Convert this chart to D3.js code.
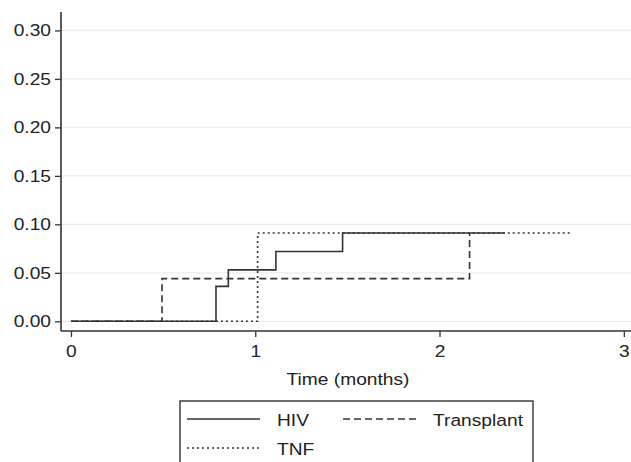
<!DOCTYPE html>
<html>
<head>
<meta charset="utf-8">
<script src="https://cdn.jsdelivr.net/npm/d3@7"></script>
<style>
	body { margin: 0; background: #fff; }
	svg text { font-family: "Liberation Sans", Arial, sans-serif; fill: #222; }
</style>
</head>
<body>
<svg id="chart" width="631" height="462"></svg>
<script>
// step data: [time (months), cumulative incidence]
const hiv = [[0, 0], [0.787, 0.036], [0.854, 0.053], [1.112, 0.072], [1.474, 0.091], [2.355, 0.091]];
const transplant = [[0, 0], [0.494, 0.044], [2.163, 0.091], [2.163, 0.091]];
const tnf = [[0, 0], [1.013, 0.091], [2.711, 0.091]];

const yTicks = [0, 0.05, 0.10, 0.15, 0.20, 0.25, 0.30];
const xTicks = [0, 1, 2, 3];

const series = [
	{ name: 'HIV', data: hiv, dash: null },
	{ name: 'Transplant', data: transplant, dash: '7,4' },
	{ name: 'TNF', data: tnf, dash: '2,3' }
];

const FONT = 17;
const STRETCH = 1.13; // text in the source is a bit wider than Arial

// widen a text around its own anchor point
function stretch(sel) {
	sel.each(function() {
		const t = d3.select(this);
		const tx = +t.attr('x') || 0, ty = +t.attr('y') || 0;
		t.attr('transform', `translate(${tx},${ty}) scale(${STRETCH},1) translate(${-tx},${-ty})`);
	});
}

const svg = d3.select('#chart');
const margin = { left: 61, top: 12, right: 0, bottom: 131 };
const W = 631, H = 462;

const x = d3.scaleLinear().domain([-0.054, 3.039]).range([margin.left, W - margin.right]);
const y = d3.scaleLinear().domain([-0.01, 0.319]).range([H - margin.bottom, margin.top]);

// grid
svg.append('g').selectAll('line').data(yTicks).join('line')
	.attr('x1', margin.left + 1).attr('x2', W)
	.attr('y1', d => y(d)).attr('y2', d => y(d))
	.attr('stroke', '#ececec').attr('stroke-width', 1.3);

// y axis
const yAxis = svg.append('g').attr('transform', `translate(${margin.left},0)`)
	.call(d3.axisLeft(y).tickValues(yTicks).tickFormat(d3.format('.2f')).tickSize(6).tickPadding(4));
yAxis.select('.domain').attr('d', `M0,${margin.top}V${H - margin.bottom}`);

// x axis
const xAxis = svg.append('g').attr('transform', `translate(0,${H - margin.bottom})`)
	.call(d3.axisBottom(x).tickValues(xTicks).tickFormat(d3.format('d')).tickSize(6).tickPadding(8));
xAxis.select('.domain').attr('d', `M${margin.left},0H${W}`);

svg.selectAll('.domain').attr('stroke', '#333').attr('stroke-width', 1.6);
svg.selectAll('.tick line').attr('stroke', '#333').attr('stroke-width', 1.3);
svg.selectAll('.tick text').attr('font-size', FONT).attr('fill', '#222').call(stretch);

svg.append('text')
	.attr('x', 348).attr('y', 385)
	.attr('text-anchor', 'middle').attr('font-size', FONT)
	.text('Time (months)')
	.call(stretch);

// step curves
const line = d3.line().x(d => x(d[0])).y(d => y(d[1])).curve(d3.curveStepAfter);
svg.append('g').selectAll('path').data(series).join('path')
	.attr('d', d => line(d.data))
	.attr('fill', 'none')
	.attr('stroke', '#333')
	.attr('stroke-width', 1.6)
	.attr('stroke-dasharray', d => d.dash);

// legend
const lg = svg.append('g');
lg.append('rect')
	.attr('x', 180).attr('y', 401).attr('width', 353).attr('height', 80)
	.attr('fill', '#fff').attr('stroke', '#333').attr('stroke-width', 1.4);

const legendPos = [
	{ x: 187, y: 419 },
	{ x: 343, y: 419 },
	{ x: 187, y: 448 }
];
series.forEach((s, i) => {
	const p = legendPos[i];
	lg.append('line')
		.attr('x1', p.x).attr('x2', p.x + 73)
		.attr('y1', p.y).attr('y2', p.y)
		.attr('stroke', '#333').attr('stroke-width', 1.6)
		.attr('stroke-dasharray', s.dash);
	lg.append('text')
		.attr('x', p.x + 90).attr('y', p.y + 7)
		.attr('font-size', FONT)
		.text(s.name)
		.call(stretch);
});
</script>
</body>
</html>
